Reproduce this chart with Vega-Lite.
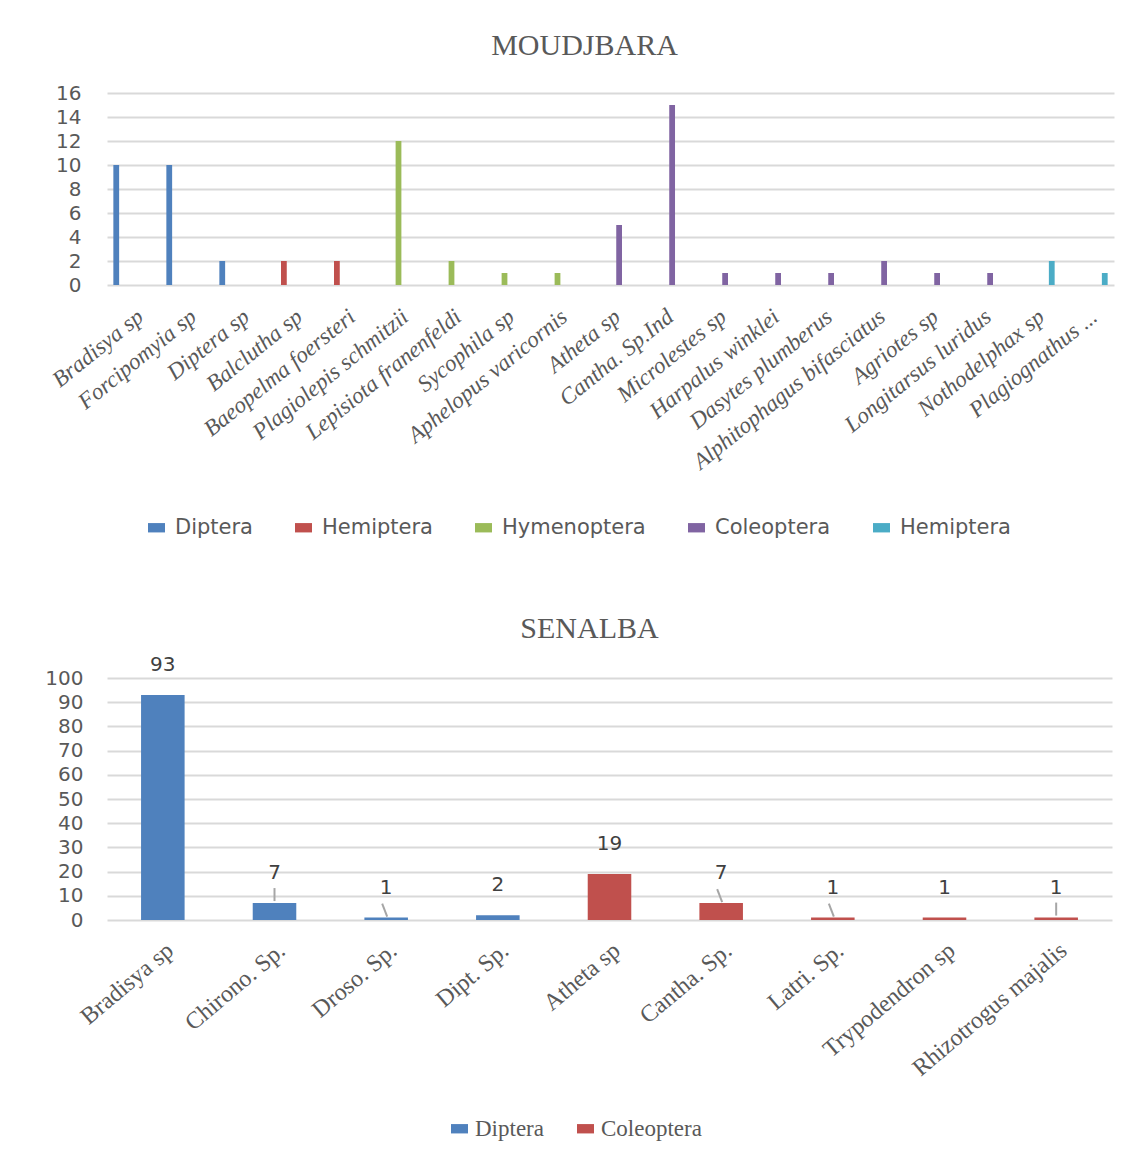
{
  "$schema": "https://vega.github.io/schema/vega-lite/v6.json",
  "background": "white",
  "padding": {"left": 44, "top": 31, "right": 10, "bottom": 10},
  "spacing": 75,
  "resolve": {"scale": {"color": "independent"}, "legend": {"color": "independent"}},
  "config": {
    "view": {"stroke": null},
    "font": "DejaVu Sans",
    "axis": {"labelColor": "#595959", "gridColor": "#D9D9D9", "gridWidth": 2, "domain": false, "ticks": false, "title": null},
    "title": {"font": "Liberation Serif", "fontWeight": "normal", "fontSize": 30, "color": "#595959"}
  },
  "vconcat": [
    {
      "title": {"text": "MOUDJBARA", "dx": -26, "offset": 22},
      "width": 1007,
      "height": 192,
      "data": {"values": [
        {"species": "Bradisya sp", "order": "Diptera", "value": 10},
        {"species": "Forcipomyia sp", "order": "Diptera", "value": 10},
        {"species": "Diptera sp", "order": "Diptera", "value": 2},
        {"species": "Balclutha sp", "order": "Hemiptera", "value": 2},
        {"species": "Baeopelma foersteri", "order": "Hemiptera", "value": 2},
        {"species": "Plagiolepis schmitzii", "order": "Hymenoptera", "value": 12},
        {"species": "Lepisiota franenfeldi", "order": "Hymenoptera", "value": 2},
        {"species": "Sycophila sp", "order": "Hymenoptera", "value": 1},
        {"species": "Aphelopus varicornis", "order": "Hymenoptera", "value": 1},
        {"species": "Atheta sp", "order": "Coleoptera", "value": 5},
        {"species": "Cantha. Sp.Ind", "order": "Coleoptera", "value": 15},
        {"species": "Microlestes sp", "order": "Coleoptera", "value": 1},
        {"species": "Harpalus winklei", "order": "Coleoptera", "value": 1},
        {"species": "Dasytes plumberus", "order": "Coleoptera", "value": 1},
        {"species": "Alphitophagus bifasciatus", "order": "Coleoptera", "value": 2},
        {"species": "Agriotes sp", "order": "Coleoptera", "value": 1},
        {"species": "Longitarsus luridus", "order": "Coleoptera", "value": 1},
        {"species": "Nothodelphax sp", "order": "Hemiptera 2", "value": 2},
        {"species": "Plagiognathus ...", "order": "Hemiptera 2", "value": 1}
      ]},
      "mark": {"type": "bar"},
      "encoding": {
        "x": {"field": "species", "type": "nominal", "sort": null,
              "scale": {"paddingInner": 0.186, "paddingOuter": 0.093},
              "axis": {"labelAngle": -39, "labelFont": "Liberation Serif", "labelFontStyle": "italic", "labelFontSize": 23, "labelPadding": 20, "labelLimit": 400, "grid": false}},
        "xOffset": {"field": "order", "type": "nominal",
                    "scale": {"domain": ["Diptera", "Hemiptera", "Hymenoptera", "Coleoptera", "Hemiptera 2"], "paddingInner": 0.33, "paddingOuter": 0.165}},
        "y": {"field": "value", "type": "quantitative",
              "scale": {"domain": [0, 16]},
              "axis": {"values": [0, 2, 4, 6, 8, 10, 12, 14, 16], "labelFontSize": 20, "labelPadding": 26}},
        "color": {"field": "order", "type": "nominal",
                  "scale": {"domain": ["Diptera", "Hemiptera", "Hymenoptera", "Coleoptera", "Hemiptera 2"], "range": ["#4F81BD", "#C0504D", "#9BBB59", "#8064A2", "#4BACC6"]},
                  "legend": {"orient": "none", "legendX": 39, "legendY": 424, "direction": "horizontal", "columns": 5, "title": null,
                             "symbolType": "M-1,-0.55H1V0.55H-1Z", "symbolSize": 289, "symbolStrokeWidth": 0,
                             "labelFont": "DejaVu Sans", "labelFontSize": 21, "labelColor": "#595959", "labelOffset": 8, "columnPadding": 40, "padding": 0,
                             "labelExpr": "datum.label == 'Hemiptera 2' ? 'Hemiptera' : datum.label"}}
      }
    },
    {
      "title": {"text": "SENALBA", "dx": -20, "offset": 11},
      "width": 1005,
      "height": 242,
      "data": {"values": [
        {"species": "Bradisya sp", "order": "Diptera", "value": 93},
        {"species": "Chirono. Sp.", "order": "Diptera", "value": 7},
        {"species": "Droso. Sp.", "order": "Diptera", "value": 1},
        {"species": "Dipt. Sp.", "order": "Diptera", "value": 2},
        {"species": "Atheta sp", "order": "Coleoptera", "value": 19},
        {"species": "Cantha. Sp.", "order": "Coleoptera", "value": 7},
        {"species": "Latri. Sp.", "order": "Coleoptera", "value": 1},
        {"species": "Trypodendron sp", "order": "Coleoptera", "value": 1},
        {"species": "Rhizotrogus majalis", "order": "Coleoptera", "value": 1}
      ]},
      "encoding": {
        "x": {"field": "species", "type": "nominal", "sort": null,
              "scale": {"paddingInner": 0.61, "paddingOuter": 0.305},
              "axis": {"labelAngle": -40, "labelFont": "Liberation Serif", "labelFontSize": 24, "labelPadding": 18, "labelLimit": 400, "grid": false}},
        "y": {"field": "value", "type": "quantitative",
              "scale": {"domain": [0, 100]},
              "axis": {"values": [0, 10, 20, 30, 40, 50, 60, 70, 80, 90, 100], "labelFontSize": 20, "labelPadding": 24}}
      },
      "layer": [
        {
          "mark": {"type": "bar"},
          "encoding": {
            "color": {"field": "order", "type": "nominal",
                      "scale": {"domain": ["Diptera", "Coleoptera"], "range": ["#4F81BD", "#C0504D"]},
                      "legend": {"orient": "none", "legendX": 341, "legendY": 439, "direction": "horizontal", "columns": 2, "title": null,
                                 "symbolType": "M-1,-0.55H1V0.55H-1Z", "symbolSize": 289, "symbolStrokeWidth": 0,
                                 "labelFont": "Liberation Serif", "labelFontSize": 23, "labelColor": "#595959", "labelOffset": 4, "columnPadding": 30, "padding": 0}}
          }
        },
        {
          "transform": [{"filter": {"field": "species", "oneOf": ["Chirono. Sp.", "Rhizotrogus majalis"]}}],
          "mark": {"type": "rule", "color": "#A6A6A6", "strokeWidth": 2, "yOffset": -15, "y2Offset": -2},
          "encoding": {"y2": {"field": "value"}}
        },
        {
          "transform": [{"filter": {"field": "species", "oneOf": ["Droso. Sp.", "Cantha. Sp.", "Latri. Sp."]}}],
          "mark": {"type": "rule", "color": "#A6A6A6", "strokeWidth": 2, "yOffset": -14, "y2Offset": -1, "xOffset": -4, "x2Offset": 1},
          "encoding": {"x2": {"field": "species"}, "y2": {"field": "value"}}
        },
        {
          "mark": {"type": "text", "dy": -30, "fontSize": 20, "color": "#404040", "font": "DejaVu Sans"},
          "encoding": {"text": {"field": "value", "type": "quantitative"}}
        }
      ]
    }
  ]
}
